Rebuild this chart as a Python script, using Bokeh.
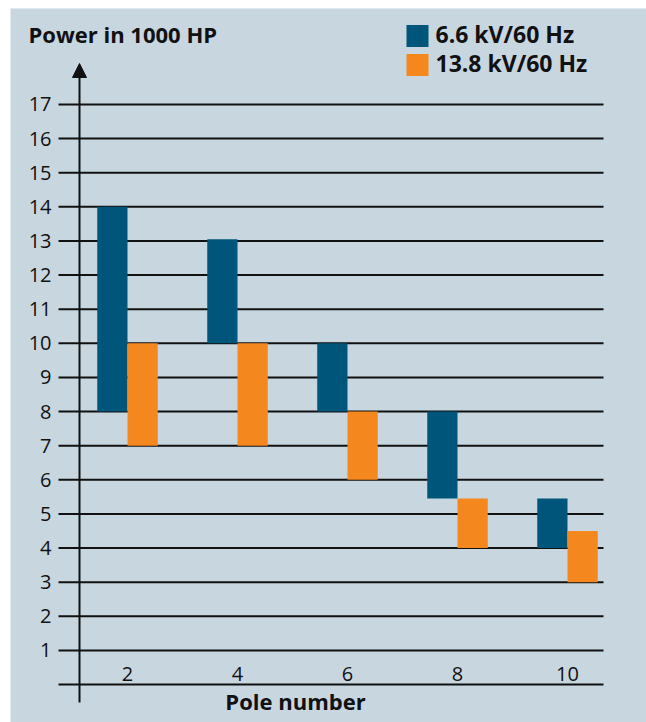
from bokeh.plotting import figure
from bokeh.models import Arrow, NormalHead
from bokeh.core.properties import value
from bokeh.embed import file_html
from bokeh.resources import INLINE

# ---- data ----
poles = [2, 4, 6, 8, 10]
low_66 = [8, 10, 8, 5.45, 4]
high_66 = [14, 13.05, 10, 8, 5.45]
low_138 = [7, 7, 6, 4, 3]
high_138 = [10, 10, 8, 5.45, 4.5]
y_ticks = list(range(0, 18))
y_tick_labels = [str(v) for v in range(1, 18)]
x_tick_labels = [str(v) for v in poles]
series_names = ["6.6 kV/60 Hz", "13.8 kV/60 Hz"]
series_colors = ["#00567a", "#f5871f"]

BG = "#c8d6df"
INK = "#111111"
FONT = "Open Sans"

# picture px -> data mapping helpers (layout only)
def px_x(px):
    return 2 + (px - 127) / 55.0

def px_y(py):
    return (684 - py) / 34.118

p = figure(width=646, height=722, output_backend="svg", toolbar_location=None,
           x_range=(px_x(10), px_x(646)), y_range=(px_y(722), px_y(8)),
           min_border=0, min_border_left=10, min_border_top=8,
           background_fill_color=BG, border_fill_color="white",
           outline_line_color=None)
p.axis.visible = False
p.grid.visible = False

# grid lines
p.segment(x0=[px_x(58)] * len(y_ticks), x1=[px_x(603)] * len(y_ticks),
          y0=y_ticks, y1=y_ticks, line_color=INK, line_width=2)

# bars
bw = 0.55
p.quad(left=[x - bw for x in poles], right=poles, bottom=low_66, top=high_66,
       fill_color=series_colors[0], line_color=None)
p.quad(left=poles, right=[x + bw for x in poles], bottom=low_138, top=high_138,
       fill_color=series_colors[1], line_color=None)

# vertical axis with arrow
p.add_layout(Arrow(x_start=px_x(79), y_start=px_y(702), x_end=px_x(79), y_end=px_y(63),
                   line_color=INK, line_width=2,
                   end=NormalHead(size=14, fill_color=INK, line_color=INK, line_width=1)))

# y tick labels
p.text(x=[px_x(51)] * len(y_tick_labels), y=list(range(1, 18)), text=y_tick_labels,
       text_align="right", text_baseline="middle", text_font=value(FONT),
       text_font_size="20px", text_color=INK)

# x tick labels
p.text(x=poles, y=[px_y(673)] * len(poles), text=x_tick_labels,
       text_align="center", text_baseline="middle", text_font=value(FONT),
       text_font_size="20px", text_color=INK)

# axis titles
p.text(x=[px_x(28)], y=[px_y(33)], text=["Power in 1000 HP"], text_align="left",
       text_baseline="middle", text_font=value(FONT), text_font_size="22px",
       text_font_style="bold", text_color=INK)
p.text(x=[px_x(295)], y=[px_y(700)], text=["Pole number"], text_align="center",
       text_baseline="middle", text_font=value(FONT), text_font_size="22px",
       text_font_style="bold", text_color=INK)

# legend
ly = [px_y(35.5), px_y(64.5)]
p.rect(x=[px_x(417)] * 2, y=ly, width=22, height=22, width_units="screen",
       height_units="screen", fill_color=series_colors, line_color=None)
p.text(x=[px_x(435)] * 2, y=[px_y(33), px_y(62)], text=series_names, text_align="left",
       text_baseline="middle", text_font=value(FONT), text_font_size="23px",
       text_font_style="bold", text_color=INK)

open("out.html", "w").write(file_html(p, INLINE))
